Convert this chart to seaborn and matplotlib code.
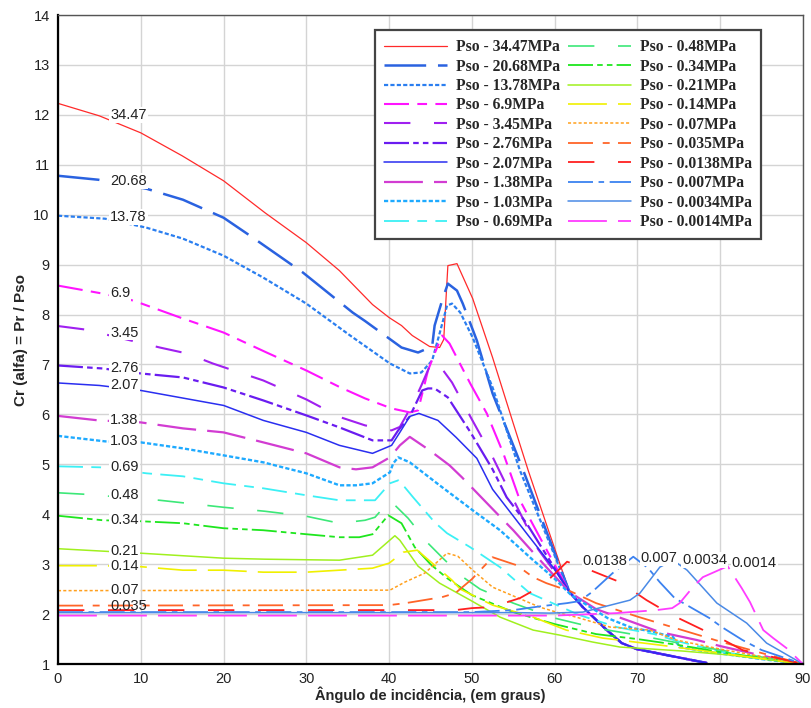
import matplotlib
matplotlib.use("Agg")
import matplotlib.pyplot as plt
import seaborn as sns
import pandas as pd

# ---------------- data ----------------
ang_3447 = [0, 5, 10, 15, 20, 25, 30, 34, 38, 40, 41.5, 42.8, 44.9, 46.1, 46.6, 47.1, 48.2, 50.1, 52.5, 55, 56.8, 59, 61.8, 63.4, 66.3, 68.1, 69.9, 73.5, 78.4]
cr_3447 = [12.23, 11.98, 11.64, 11.18, 10.68, 10.04, 9.44, 8.88, 8.2, 7.94, 7.78, 7.58, 7.36, 7.34, 7.5, 8.98, 9.02, 8.32, 7.14, 5.82, 4.88, 3.8, 2.44, 2.14, 1.68, 1.42, 1.3, 1.18, 1.02]

ang_2068 = [0, 4.9, 10.7, 15.1, 20, 23.2, 29.6, 35.6, 37.1, 41.5, 43.5, 45.2, 45.5, 46.4, 47.1, 48.2, 48.9, 50.6, 52.5, 56.2, 61.8, 63.4, 66.3, 68.1, 69.9, 73.5, 78.4]
cr_2068 = [10.78, 10.7, 10.52, 10.3, 9.94, 9.58, 8.84, 8.04, 7.87, 7.34, 7.24, 7.36, 7.78, 8.28, 8.62, 8.48, 8.22, 7.48, 6.42, 4.88, 2.44, 2.14, 1.68, 1.42, 1.3, 1.18, 1.02]

ang_1378 = [0, 5.7, 10.7, 15.1, 20, 24.8, 30, 35.3, 40.1, 42.5, 43.9, 45.2, 46.1, 47, 47.6, 48.6, 50.1, 52.5, 55.8, 61.8, 63.4, 66.3, 68.1, 69.9, 73.5, 78.4]
cr_1378 = [9.98, 9.92, 9.74, 9.52, 9.18, 8.74, 8.22, 7.58, 7.02, 6.82, 6.84, 7.08, 7.62, 8.18, 8.22, 8.04, 7.54, 6.54, 4.88, 2.44, 2.14, 1.68, 1.42, 1.3, 1.18, 1.02]

ang_690 = [0, 5.4, 9.1, 15.1, 20, 25.2, 30, 34, 37.1, 40.3, 42.5, 43.5, 44.7, 45.3, 46.4, 47.3, 49.8, 51.8, 53.8, 55.8, 58.2, 61.8, 63.4, 66.3, 68.1, 69.9, 73.5, 78.4]
cr_690 = [8.58, 8.42, 8.28, 7.92, 7.64, 7.24, 6.88, 6.55, 6.32, 6.12, 6.04, 6.08, 6.88, 7.14, 7.58, 7.42, 6.62, 6.02, 5.22, 4.28, 3.54, 2.44, 2.14, 1.68, 1.42, 1.3, 1.18, 1.02]

ang_345 = [0, 3.3, 12.3, 15.6, 18.7, 24.8, 30, 34, 37.1, 40.3, 41.3, 42.9, 43.9, 45.2, 46.1, 47.6, 50, 52.5, 55, 58, 61.8, 63.4, 66.3, 68.1, 69.9, 73.5, 78.4]
cr_345 = [7.77, 7.7, 7.34, 7.22, 7.02, 6.68, 6.3, 5.95, 5.78, 5.68, 5.75, 6.22, 6.58, 7.08, 6.98, 6.64, 5.9, 5.15, 4.3, 3.3, 2.44, 2.14, 1.68, 1.42, 1.3, 1.18, 1.02]

ang_276 = [0, 5.4, 10, 15.1, 20, 24.8, 30, 34, 38, 40.3, 41.1, 42.5, 44, 44.7, 45.5, 47.1, 49.8, 52.5, 54.2, 56.6, 61.8, 63.4, 66.3, 68.1, 69.9, 73.5, 78.4]
cr_276 = [6.98, 6.92, 6.82, 6.74, 6.54, 6.28, 5.98, 5.74, 5.48, 5.48, 5.68, 5.96, 6.48, 6.52, 6.52, 6.34, 5.65, 4.9, 4.34, 3.82, 2.44, 2.14, 1.68, 1.42, 1.3, 1.18, 1.02]

ang_207 = [0, 5, 10, 20, 24.8, 30, 34, 38, 40.3, 41.3, 42.5, 43.6, 45.9, 48.1, 50.6, 52.5, 56.6, 59.8, 61.8, 63.4, 66.3, 68.1, 69.9, 73.5, 78.4]
cr_207 = [6.63, 6.58, 6.48, 6.18, 5.88, 5.64, 5.38, 5.22, 5.38, 5.64, 5.96, 6.02, 5.88, 5.54, 5.12, 4.5, 3.62, 2.94, 2.44, 2.14, 1.68, 1.42, 1.3, 1.18, 1.02]

ang_138 = [0, 4.9, 10, 15.1, 20, 24.8, 30, 34, 36, 38, 40.1, 41.3, 42.5, 44.9, 47.3, 48.8, 53, 55, 59, 61.8, 65, 69.4, 72.7, 77.2, 80, 85, 90]
cr_138 = [5.97, 5.88, 5.84, 5.72, 5.64, 5.44, 5.22, 4.94, 4.9, 4.94, 5.14, 5.38, 5.55, 5.28, 4.98, 4.74, 4.02, 3.68, 2.94, 2.44, 2.1, 1.84, 1.64, 1.48, 1.36, 1.17, 1.0]

ang_103 = [0, 5.7, 10, 15.1, 20, 24.8, 30, 34, 36, 38, 40.1, 40.5, 41.1, 42.5, 46.1, 50.1, 53.4, 57.4, 59.8, 62, 66.4, 69.4, 71.5, 74.3, 75.1, 78.7, 85, 90]
cr_103 = [5.57, 5.46, 5.44, 5.32, 5.18, 5.04, 4.82, 4.58, 4.58, 4.62, 4.84, 5.02, 5.14, 5.04, 4.58, 4.08, 3.68, 3.08, 2.74, 2.38, 1.92, 1.72, 1.66, 1.54, 1.34, 1.24, 1.1, 1.0]

ang_069 = [0, 5.1, 10.7, 15.1, 20, 24.8, 30, 34, 38.3, 40.1, 41.1, 41.9, 42.9, 45.5, 47, 49.8, 53.4, 57, 60, 63, 67.5, 72, 75, 80, 85, 90]
cr_069 = [4.96, 4.94, 4.82, 4.76, 4.62, 4.52, 4.38, 4.28, 4.28, 4.62, 4.68, 4.54, 4.34, 3.84, 3.62, 3.34, 2.94, 2.42, 2.2, 1.98, 1.74, 1.6, 1.45, 1.25, 1.12, 1.0]

ang_048 = [0, 3.3, 12.3, 15.6, 20, 25, 30, 34, 37.1, 38.3, 40.1, 42.3, 44.7, 46.5, 48.6, 51, 55, 60, 65, 70, 75, 80, 85, 90]
cr_048 = [4.43, 4.4, 4.28, 4.22, 4.14, 4.06, 3.96, 3.82, 3.88, 3.94, 4.28, 3.92, 3.42, 3.12, 2.78, 2.5, 2.22, 1.92, 1.72, 1.58, 1.42, 1.28, 1.14, 1.0]

ang_034 = [0, 3, 5.4, 10, 15.1, 20, 24.8, 30, 34, 36.4, 38, 39.9, 41.5, 43.1, 45, 47, 50, 55, 60, 65, 70, 75, 80, 85, 90]
cr_034 = [3.97, 3.92, 3.88, 3.86, 3.82, 3.72, 3.68, 3.6, 3.54, 3.54, 3.6, 3.98, 3.82, 3.34, 3.0, 2.72, 2.38, 2.04, 1.8, 1.6, 1.5, 1.38, 1.24, 1.12, 1.0]

ang_021 = [0, 10, 20, 25, 34, 38, 40.7, 41.3, 43.5, 46.1, 49.8, 53.4, 57.4, 60.6, 64.6, 67.9, 69.9, 75.5, 81.2, 90]
cr_021 = [3.31, 3.22, 3.12, 3.1, 3.08, 3.18, 3.57, 3.48, 2.96, 2.62, 2.28, 1.94, 1.68, 1.58, 1.44, 1.34, 1.32, 1.26, 1.18, 1.0]

ang_014 = [0, 5, 10, 15.1, 20, 24.8, 30, 34, 38, 40, 41.7, 43.4, 45.5, 47.6, 48.6, 52.5, 57.4, 61.4, 65.8, 72.7, 80, 90]
cr_014 = [2.97, 2.97, 2.95, 2.88, 2.88, 2.84, 2.84, 2.88, 2.92, 3.02, 3.24, 3.28, 2.98, 2.68, 2.5, 2.18, 1.94, 1.68, 1.52, 1.38, 1.22, 1.0]

ang_007 = [0, 40.1, 41.9, 44.3, 47, 48.3, 50.1, 52.5, 58.2, 60.6, 62.6, 66.7, 71.5, 74.7, 80, 85, 90]
cr_007 = [2.47, 2.48, 2.64, 2.82, 3.22, 3.16, 2.88, 2.54, 2.14, 2.02, 1.94, 1.74, 1.68, 1.48, 1.3, 1.15, 1.0]

ang_0035 = [0, 40, 42, 46.4, 48, 50, 52.5, 55.4, 57.4, 59, 62, 65, 70, 75, 80, 85, 90]
cr_0035 = [2.17, 2.18, 2.22, 2.34, 2.42, 2.7, 3.14, 2.98, 2.74, 2.62, 2.45, 2.22, 1.95, 1.7, 1.45, 1.22, 1.0]

ang_00138 = [0, 48, 50, 52.4, 55.8, 58.6, 61.5, 64, 67.9, 71.1, 74.2, 77.2, 80.2, 82.7, 90]
cr_00138 = [2.08, 2.08, 2.12, 2.14, 2.32, 2.58, 3.05, 2.9, 2.64, 2.28, 1.98, 1.74, 1.5, 1.28, 1.0]

ang_0007 = [0, 50, 55, 58, 61.5, 63, 64.5, 67, 69.5, 71.3, 72.7, 74.5, 76.6, 78.7, 80.2, 82.7, 85, 90]
cr_0007 = [2.04, 2.04, 2.08, 2.15, 2.22, 2.26, 2.44, 2.82, 3.15, 2.92, 2.64, 2.32, 2.12, 1.92, 1.74, 1.48, 1.28, 1.0]

ang_00034 = [0, 55, 59.4, 63.4, 65.8, 69.1, 70.3, 72.7, 74.3, 76, 79.6, 83.2, 85.6, 90]
cr_00034 = [2.03, 2.03, 2.02, 2.04, 2.14, 2.28, 2.42, 2.94, 3.08, 2.88, 2.22, 1.82, 1.42, 1.0]

ang_00014 = [0, 60, 67.5, 72.3, 74.2, 75.1, 76.7, 77.9, 80.9, 82.6, 83.6, 85.2, 86.4, 88, 90]
cr_00014 = [1.97, 1.97, 2.02, 2.08, 2.12, 2.22, 2.54, 2.74, 2.96, 2.52, 2.24, 1.68, 1.52, 1.32, 1.0]

legend_labels = ["Pso - 34.47MPa", "Pso - 20.68MPa", "Pso - 13.78MPa", "Pso - 6.9MPa",
                 "Pso - 3.45MPa", "Pso - 2.76MPa", "Pso - 2.07MPa", "Pso - 1.38MPa",
                 "Pso - 1.03MPa", "Pso - 0.69MPa", "Pso - 0.48MPa", "Pso - 0.34MPa",
                 "Pso - 0.21MPa", "Pso - 0.14MPa", "Pso - 0.07MPa", "Pso - 0.035MPa",
                 "Pso - 0.0138MPa", "Pso - 0.007MPa", "Pso - 0.0034MPa", "Pso - 0.0014MPa"]

left_label_text = ["34.47", "20.68", "13.78", "6.9", "3.45", "2.76", "2.07", "1.38",
                   "1.03", "0.69", "0.48", "0.34", "0.21", "0.14", "0.07", "0.035"]
left_label_y = [12.0, 10.68, 9.95, 8.43, 7.64, 6.92, 6.58, 5.88,
                5.47, 4.95, 4.38, 3.88, 3.27, 2.97, 2.48, 2.17]
right_label_text = ["0.0138", "0.007", "0.0034", "0.0014"]
right_label_x = [63.4, 70.4, 75.4, 81.4]
right_label_y = [3.07, 3.13, 3.08, 3.03]

x_label = "Ângulo de incidência, (em graus)"
y_label = "Cr (alfa) = Pr / Pso"

series_data = [
    (ang_3447, cr_3447), (ang_2068, cr_2068), (ang_1378, cr_1378), (ang_690, cr_690),
    (ang_345, cr_345), (ang_276, cr_276), (ang_207, cr_207), (ang_138, cr_138),
    (ang_103, cr_103), (ang_069, cr_069), (ang_048, cr_048), (ang_034, cr_034),
    (ang_021, cr_021), (ang_014, cr_014), (ang_007, cr_007), (ang_0035, cr_0035),
    (ang_00138, cr_00138), (ang_0007, cr_0007), (ang_00034, cr_00034), (ang_00014, cr_00014),
]

# ---------------- styles ----------------
colors = ["#ff2a2a", "#2a62e0", "#2a7ef0", "#ff14ff", "#a020f0", "#6a1cf0", "#2a2ef0", "#d23cd2",
          "#1eaaff", "#3cf0f5", "#3ce878", "#1ee61e", "#a0f01e", "#f0f000", "#ffa01e", "#ff6428",
          "#ff2020", "#3c82f0", "#4a8ae6", "#ff3cff"]
LDASH = (0, (30, 8.5))
SDOT = (0, (3, 1.6))
DSHORT = (0, (18, 6, 7, 6))
GAPD = (0, (19, 17))
DDOT = (0, (18, 3, 4, 3, 4, 3))
styles = ["-", LDASH, SDOT, DSHORT, GAPD, DDOT, "-", (0, (28, 8)),
          SDOT, DSHORT, GAPD, DDOT, "-", (0, (28, 8)), (0, (2.2, 1.6)), (0, (18, 7, 5, 6)),
          GAPD, (0, (18, 4, 4, 4)), "-", (0, (28, 8))]
widths = [0.9, 1.8, 1.6, 1.5, 1.5, 1.6, 1.1, 1.6,
          1.7, 1.3, 1.2, 1.3, 1.1, 1.2, 1.1, 1.3,
          1.3, 1.3, 1.1, 1.3]

sns.set_style("whitegrid")
plt.rcParams["font.family"] = ["Liberation Sans", "DejaVu Sans"]
plt.rcParams["lines.scale_dashes"] = False

fig = plt.figure(figsize=(8.12, 7.08), dpi=100)
ax = fig.add_axes([0.0714, 0.0621, 0.9175, 0.9167])

handles = []
for i, (xs, ys) in enumerate(series_data):
    df = pd.DataFrame({"ang": xs, "cr": ys})
    n_before = len(ax.lines)
    sns.lineplot(data=df, x="ang", y="cr", ax=ax, color=colors[i], linewidth=widths[i],
                 linestyle=styles[i], sort=False, estimator=None, legend=False)
    handles.append(ax.lines[n_before])

for txt, yv in zip(left_label_text, left_label_y):
    bb = None if txt == "0.035" else dict(facecolor="white", edgecolor="none", pad=0.6)
    ax.text(6.3, yv, txt, ha="left", va="center", fontsize=10.5, color="#222222",
            bbox=bb, zorder=5)
for txt, xv, yv in zip(right_label_text, right_label_x, right_label_y):
    ax.text(xv, yv, txt, ha="left", va="center", fontsize=10.5, color="#222222",
            bbox=dict(facecolor="white", edgecolor="none", pad=0.6), zorder=5)

ax.set_xlim(0, 90)
ax.set_ylim(1, 14)
ax.set_xticks(range(0, 91, 10))
ax.set_yticks(range(1, 15))
ax.grid(True, color="#d4d4d4", linewidth=1.0)
ax.tick_params(axis="both", length=0, labelsize=10.5, colors="#222222")
ax.tick_params(axis="x", pad=6)
ax.tick_params(axis="y", pad=6)
for side in ["left", "bottom"]:
    ax.spines[side].set_color("black")
    ax.spines[side].set_linewidth(1.6)
for side in ["top", "right"]:
    ax.spines[side].set_color("#555555")
    ax.spines[side].set_linewidth(1.0)
ax.set_xlabel(x_label, fontsize=10.5, fontweight="bold", labelpad=0)
ax.set_ylabel(y_label, fontsize=11, fontweight="bold", labelpad=4)

leg = ax.legend(handles, legend_labels, ncol=2, loc="upper left",
                bbox_to_anchor=(0.4255, 0.977), frameon=True, fancybox=False,
                prop={"family": "Liberation Serif", "weight": "bold", "size": 11.25},
                handlelength=4.0, handletextpad=0.6, columnspacing=0.5,
                labelspacing=0.22, borderpad=0.59, borderaxespad=0)
leg.get_frame().set_edgecolor("#444444")
leg.get_frame().set_linewidth(1.6)
leg.get_frame().set_alpha(1)

fig.savefig("out.png", dpi=100)
